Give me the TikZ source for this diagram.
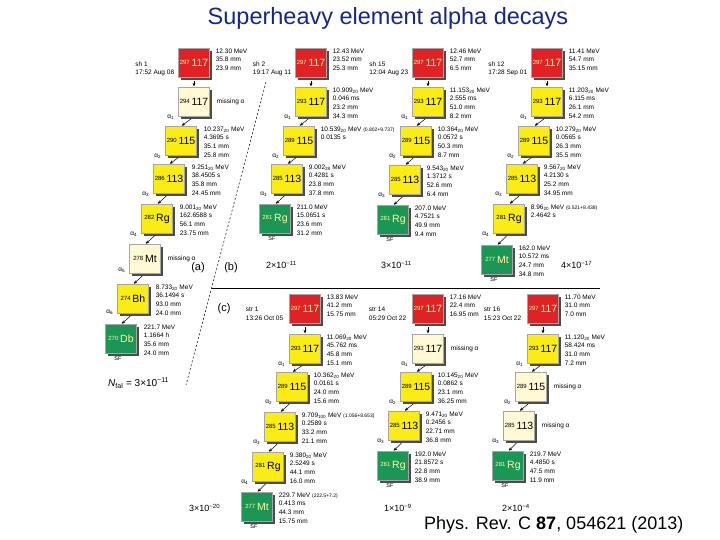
\documentclass[tikz,border=0pt]{standalone}
\usepackage{fontspec}
\setmainfont{Liberation Sans}
\usetikzlibrary{shadows,arrows.meta,calc}
\definecolor{cred}{RGB}{222,34,38}
\definecolor{cyel}{RGB}{250,236,20}
\definecolor{clight}{RGB}{255,249,212}
\definecolor{cgreen}{RGB}{28,150,84}
\definecolor{ctitle}{RGB}{20,40,140}
\newcommand\upx[1]{\textsuperscript{#1}}
\newcommand\dnx[1]{\textsubscript{#1}}
\newcommand\nuc[2]{\raisebox{2.2pt}{\fontsize{6}{6}\selectfont #1}\,#2}
\tikzset{
  box/.style={minimum width=31pt, minimum height=29pt, inner sep=0pt, draw=black!35, line width=0.3pt,
    drop shadow={shadow xshift=2.5pt, shadow yshift=-2.5pt, fill=black!70, opacity=1},
    font=\fontsize{10.5}{10.5}\selectfont},
  rbox/.style={box, fill=cred, text=yellow!35!white},
  ybox/.style={box, fill=cyel},
  lbox/.style={box, fill=clight},
  gbox/.style={box, fill=cgreen, text=yellow!35!white},
  info/.style={font=\fontsize{6.5}{8.7}\selectfont, align=left, anchor=north west, inner sep=0pt},
  miss/.style={font=\fontsize{6.5}{8}\selectfont, anchor=west, inner sep=0pt},
  lab/.style={font=\fontsize{6.5}{8.5}\selectfont, align=left, anchor=east, inner sep=0pt},
  al/.style={font=\fontsize{6.5}{7}\selectfont, anchor=east, inner sep=0pt},
  sf/.style={font=\fontsize{5.5}{6}\selectfont, inner sep=0pt},
  prob/.style={font=\fontsize{9}{10}\selectfont, anchor=west, inner sep=0pt},
  panel/.style={font=\fontsize{11}{12}\selectfont, inner sep=0pt},
  arr/.style={-{Stealth[length=3.5pt,width=3pt]}, line width=0.5pt, shorten <=3.5pt, shorten >=1pt}
}
\begin{document}
\begin{tikzpicture}[x=1pt,y=-1pt]
\useasboundingbox (0,0) rectangle (720,540);
\fill[white] (0,0) rectangle (720,540);

\node[font=\fontsize{23.5}{25}\selectfont, text=ctitle] (title) at (388,18) {Superheavy element alpha decays};

% ---------- top column 1 ----------
\node[rbox] (a0) at (194,63) {\nuc{297}{117}};
\node[lbox] (a1) at (194,102) {\nuc{294}{117}};
\node[ybox] (a2) at (181,141) {\nuc{290}{115}};
\node[ybox] (a3) at (169,179) {\nuc{286}{113}};
\node[ybox] (a4) at (157,219) {\nuc{282}{Rg}};
\node[lbox] (a5) at (145,259) {\nuc{278}{Mt}};
\node[ybox] (a6) at (133,299) {\nuc{274}{Bh}};
\node[gbox] (a7) at (121,339) {\nuc{270}{Db}};
\node[lab] (a0l) at ([xshift=-4pt,yshift=-6pt]a0.west) {sh 1\\17:52 Aug 08};
\node[info] (a0t) at ([xshift=6pt]a0.north east) {12.30 MeV\\35.8 mm\\23.9 mm};
\node[miss] (a1t) at ([xshift=7pt]a1.east) {missing α};
\node[info] (a2t) at ([xshift=7pt]a2.north east) {10.237\dnx{20} MeV\\4.3695 s\\35.1 mm\\25.8 mm};
\node[info] (a3t) at ([xshift=7pt]a3.north east) {9.251\dnx{20} MeV\\38.4505 s\\35.8 mm\\24.45 mm};
\node[info] (a4t) at ([xshift=7pt]a4.north east) {9.001\dnx{20} MeV\\162.6588 s\\56.1 mm\\23.75 mm};
\node[miss] (a5t) at ([xshift=7pt]a5.east) {missing α};
\node[info] (a6t) at ([xshift=7pt]a6.north east) {8.733\dnx{20} MeV\\36.1494 s\\93.0 mm\\24.0 mm};
\node[info] (a7t) at ([xshift=7pt]a7.north east) {221.7 MeV\\1.1664 h\\35.6 mm\\24.0 mm};
\draw[arr] (a0) -- (a1);
\draw[arr] (a1.south) -- (a2.north);
\draw[arr] (a2.south) -- (a3.north);
\draw[arr] (a3.south) -- (a4.north);
\draw[arr] (a4.south) -- (a5.north);
\draw[arr] (a5.south) -- (a6.north);
\draw[arr] (a6.south) -- (a7.north);
\node[al] at ([xshift=-4pt,yshift=-1pt]a1.south west) {α\dnx{1}};
\node[al] at ([xshift=-4pt,yshift=-1pt]a2.south west) {α\dnx{2}};
\node[al] at ([xshift=-4pt,yshift=-1pt]a3.south west) {α\dnx{3}};
\node[al] at ([xshift=-4pt,yshift=-1pt]a4.south west) {α\dnx{4}};
\node[al] at ([xshift=-4pt,yshift=3pt]a5.south west) {α\dnx{5}};
\node[al] at ([xshift=-4pt,yshift=1pt]a6.south west) {α\dnx{6}};
\node[sf] at ([xshift=-3pt,yshift=-5pt]a7.south) {SF};

% ---------- top column 2 ----------
\node[rbox] (b0) at (311,63) {\nuc{297}{117}};
\node[ybox] (b1) at (311,102) {\nuc{293}{117}};
\node[ybox] (b2) at (299,141) {\nuc{289}{115}};
\node[ybox] (b3) at (287,179) {\nuc{285}{113}};
\node[gbox] (b4) at (275,219) {\nuc{281}{Rg}};
\node[lab] (b0l) at ([xshift=-4pt,yshift=-6pt]b0.west) {sh 2\\19:17 Aug 11};
\node[info] (b0t) at ([xshift=6pt]b0.north east) {12.43 MeV\\23.52 mm\\25.3 mm};
\node[info] (b1t) at ([xshift=6pt]b1.north east) {10.909\dnx{20} MeV\\0.046 ms\\23.2 mm\\34.3 mm};
\node[info] (b2t) at ([xshift=6pt]b2.north east) {10.539\dnx{20} MeV {\fontsize{5}{6}\selectfont(0.802+9.737)}\\0.0135 s};
\node[info] (b3t) at ([xshift=6pt]b3.north east) {9.002\dnx{28} MeV\\0.4281 s\\23.8 mm\\37.8 mm};
\node[info] (b4t) at ([xshift=6pt]b4.north east) {211.0 MeV\\15.0651 s\\23.6 mm\\31.2 mm};
\draw[arr] (b0) -- (b1);
\draw[arr] (b1.south) -- (b2.north);
\draw[arr] (b2.south) -- (b3.north);
\draw[arr] (b3.south) -- (b4.north);
\node[al] at ([xshift=-4pt,yshift=-1pt]b1.south west) {α\dnx{1}};
\node[al] at ([xshift=-4pt,yshift=-1pt]b2.south west) {α\dnx{2}};
\node[al] at ([xshift=-4pt,yshift=-1pt]b3.south west) {α\dnx{3}};
\node[sf] at ([xshift=-3pt,yshift=-5pt]b4.south) {SF};
\node[prob] (bp) at (266,265) {2×10\upx{−11}};

% ---------- top column 3 ----------
\node[rbox] (c0) at (428,63) {\nuc{297}{117}};
\node[ybox] (c1) at (428,102) {\nuc{293}{117}};
\node[ybox] (c2) at (416,141) {\nuc{289}{115}};
\node[ybox] (c3) at (405,180) {\nuc{285}{113}};
\node[gbox] (c4) at (393,220) {\nuc{281}{Rg}};
\node[lab] (c0l) at ([xshift=-4pt,yshift=-6pt]c0.west) {sh 15\\12:04 Aug 23};
\node[info] (c0t) at ([xshift=6pt]c0.north east) {12.46 MeV\\52.7 mm\\6.5 mm};
\node[info] (c1t) at ([xshift=6pt]c1.north east) {11.153\dnx{20} MeV\\2.555 ms\\51.0 mm\\8.2 mm};
\node[info] (c2t) at ([xshift=6pt]c2.north east) {10.364\dnx{20} MeV\\0.0572 s\\50.3 mm\\8.7 mm};
\node[info] (c3t) at ([xshift=6pt]c3.north east) {9.543\dnx{20} MeV\\1.3712 s\\52.6 mm\\6.4 mm};
\node[info] (c4t) at ([xshift=6pt]c4.north east) {207.0 MeV\\4.7521 s\\49.9 mm\\9.4 mm};
\draw[arr] (c0) -- (c1);
\draw[arr] (c1.south) -- (c2.north);
\draw[arr] (c2.south) -- (c3.north);
\draw[arr] (c3.south) -- (c4.north);
\node[al] at ([xshift=-4pt,yshift=-1pt]c1.south west) {α\dnx{1}};
\node[al] at ([xshift=-4pt,yshift=-1pt]c2.south west) {α\dnx{2}};
\node[al] at ([xshift=-4pt,yshift=-1pt]c3.south west) {α\dnx{3}};
\node[sf] at ([xshift=-3pt,yshift=-5pt]c4.south) {SF};
\node[prob] (cp) at (381,265) {3×10\upx{−11}};

% ---------- top column 4 ----------
\node[rbox] (d0) at (547,63) {\nuc{297}{117}};
\node[ybox] (d1) at (547,102) {\nuc{293}{117}};
\node[ybox] (d2) at (534,141) {\nuc{289}{115}};
\node[ybox] (d3) at (522,179) {\nuc{285}{113}};
\node[ybox] (d4) at (509,219) {\nuc{281}{Rg}};
\node[gbox] (d5) at (497,260) {\nuc{277}{Mt}};
\node[lab] (d0l) at ([xshift=-4pt,yshift=-6pt]d0.west) {sh 12\\17:28 Sep 01};
\node[info] (d0t) at ([xshift=6pt]d0.north east) {11.41 MeV\\54.7 mm\\35.15 mm};
\node[info] (d1t) at ([xshift=6pt]d1.north east) {11.203\dnx{20} MeV\\6.115 ms\\26.1 mm\\54.2 mm};
\node[info] (d2t) at ([xshift=6pt]d2.north east) {10.279\dnx{20} MeV\\0.0565 s\\26.3 mm\\35.5 mm};
\node[info] (d3t) at ([xshift=6pt]d3.north east) {9.567\dnx{20} MeV\\4.2130 s\\25.2 mm\\34.95 mm};
\node[info] (d4t) at ([xshift=6pt]d4.north east) {8.96\dnx{20} MeV {\fontsize{5}{6}\selectfont(0.521+8.438)}\\2.4642 s};
\node[info] (d5t) at ([xshift=6pt]d5.north east) {162.0 MeV\\10.572 ms\\24.7 mm\\34.8 mm};
\draw[arr] (d0) -- (d1);
\draw[arr] (d1.south) -- (d2.north);
\draw[arr] (d2.south) -- (d3.north);
\draw[arr] (d3.south) -- (d4.north);
\draw[arr] (d4.south) -- (d5.north);
\node[al] at ([xshift=-4pt,yshift=-1pt]d1.south west) {α\dnx{1}};
\node[al] at ([xshift=-4pt,yshift=-1pt]d2.south west) {α\dnx{2}};
\node[al] at ([xshift=-4pt,yshift=-1pt]d3.south west) {α\dnx{3}};
\node[al] at ([xshift=-4pt,yshift=-1pt]d4.south west) {α\dnx{4}};
\node[sf] at ([xshift=-3pt,yshift=-5pt]d5.south) {SF};
\node[prob] (dp) at (561,265) {4×10\upx{−17}};

% ---------- separators ----------
\coordinate (dtop) at (266,82);
\coordinate (dbot) at (186,385);
\draw[line width=0.5pt, dash pattern=on 2pt off 2pt] (dtop) -- (dbot);
\coordinate (hl) at (212,288);
\coordinate (hr) at (600,288);
\draw[line width=0.7pt] (hl) -- (hr);
\node[panel] (la) at (198,268) {(a)};
\node[panel] (lb) at (231,268) {(b)};
\node[panel] (lc) at (224,309) {(c)};
\node[prob, font=\fontsize{10}{11}\selectfont] (nf) at (108,383) {\textit{N}\dnx{fal} = 3×10\upx{−11}};

% ---------- bottom column 1 ----------
\node[rbox] (e0) at (305,309) {\nuc{297}{117}};
\node[ybox] (e1) at (305,349) {\nuc{293}{117}};
\node[ybox] (e2) at (292,387) {\nuc{289}{115}};
\node[ybox] (e3) at (280,427) {\nuc{285}{113}};
\node[ybox] (e4) at (268,467) {\nuc{281}{Rg}};
\node[gbox] (e5) at (257,507) {\nuc{277}{Mt}};
\node[lab] (e0l) at ([xshift=-6pt,yshift=-5pt]e0.west) {str 1\\13:26 Oct 05};
\node[info] (e0t) at ([xshift=6pt]e0.north east) {13.83 MeV\\41.2 mm\\15.75 mm};
\node[info] (e1t) at ([xshift=6pt]e1.north east) {11.069\dnx{20} MeV\\45.762 ms\\45.8 mm\\15.1 mm};
\node[info] (e2t) at ([xshift=6pt]e2.north east) {10.362\dnx{20} MeV\\0.0161 s\\24.0 mm\\15.6 mm};
\node[info] (e3t) at ([xshift=6pt]e3.north east) {9.709\dnx{100} MeV {\fontsize{5}{6}\selectfont(1.056+8.653)}\\0.2589 s\\33.2 mm\\21.1 mm};
\node[info] (e4t) at ([xshift=6pt]e4.north east) {9.380\dnx{20} MeV\\2.5249 s\\44.1 mm\\16.0 mm};
\node[info] (e5t) at ([xshift=6pt]e5.north east) {229.7 MeV {\fontsize{5}{6}\selectfont(222.5+7.2)}\\0.413 ms\\44.3 mm\\15.75 mm};
\draw[arr] (e0) -- (e1);
\draw[arr] (e1.south) -- (e2.north);
\draw[arr] (e2.south) -- (e3.north);
\draw[arr] (e3.south) -- (e4.north);
\draw[arr] (e4.south) -- (e5.north);
\node[al] at ([xshift=-4pt,yshift=-1pt]e1.south west) {α\dnx{1}};
\node[al] at ([xshift=-4pt,yshift=-1pt]e2.south west) {α\dnx{2}};
\node[al] at ([xshift=-4pt,yshift=-1pt]e3.south west) {α\dnx{3}};
\node[al] at ([xshift=-4pt,yshift=-1pt]e4.south west) {α\dnx{4}};
\node[sf] at ([xshift=-3pt,yshift=-5pt]e5.south) {SF};
\node[prob] (ep) at (189,508) {3×10\upx{−20}};

% ---------- bottom column 2 ----------
\node[rbox] (f0) at (428,309) {\nuc{297}{117}};
\node[lbox] (f1) at (428,349) {\nuc{293}{117}};
\node[ybox] (f2) at (416,387) {\nuc{289}{115}};
\node[ybox] (f3) at (404,426) {\nuc{285}{113}};
\node[gbox] (f4) at (393,466) {\nuc{281}{Rg}};
\node[lab] (f0l) at ([xshift=-6pt,yshift=-5pt]f0.west) {str 14\\05:29 Oct 22};
\node[info] (f0t) at ([xshift=6pt]f0.north east) {17.16 MeV\\22.4 mm\\16.95 mm};
\node[miss] (f1t) at ([xshift=7pt]f1.east) {missing α};
\node[info] (f2t) at ([xshift=6pt]f2.north east) {10.145\dnx{20} MeV\\0.0862 s\\23.1 mm\\36.25 mm};
\node[info] (f3t) at ([xshift=6pt]f3.north east) {9.471\dnx{20} MeV\\0.2456 s\\22.71 mm\\36.8 mm};
\node[info] (f4t) at ([xshift=6pt]f4.north east) {192.0 MeV\\21.8572 s\\22.8 mm\\38.9 mm};
\draw[arr] (f0) -- (f1);
\draw[arr] (f1.south) -- (f2.north);
\draw[arr] (f2.south) -- (f3.north);
\draw[arr] (f3.south) -- (f4.north);
\node[al] at ([xshift=-4pt,yshift=-1pt]f1.south west) {α\dnx{1}};
\node[al] at ([xshift=-4pt,yshift=-1pt]f2.south west) {α\dnx{2}};
\node[al] at ([xshift=-4pt,yshift=-1pt]f3.south west) {α\dnx{3}};
\node[sf] at ([xshift=-3pt,yshift=-5pt]f4.south) {SF};
\node[prob] (fp) at (384,508) {1×10\upx{−9}};

% ---------- bottom column 3 ----------
\node[rbox] (g0) at (543,309) {\nuc{297}{117}};
\node[ybox] (g1) at (543,349) {\nuc{293}{117}};
\node[lbox] (g2) at (531,387) {\nuc{289}{115}};
\node[lbox] (g3) at (519,426) {\nuc{285}{113}};
\node[gbox] (g4) at (508,466) {\nuc{281}{Rg}};
\node[lab] (g0l) at ([xshift=-6pt,yshift=-5pt]g0.west) {str 16\\15:23 Oct 22};
\node[info] (g0t) at ([xshift=6pt]g0.north east) {11.70 MeV\\31.0 mm\\7.0 mm};
\node[info] (g1t) at ([xshift=6pt]g1.north east) {11.120\dnx{20} MeV\\58.424 ms\\31.0 mm\\7.2 mm};
\node[miss] (g2t) at ([xshift=7pt]g2.east) {missing α};
\node[miss] (g3t) at ([xshift=7pt]g3.east) {missing α};
\node[info] (g4t) at ([xshift=6pt]g4.north east) {219.7 MeV\\4.4850 s\\47.5 mm\\11.9 mm};
\draw[arr] (g0) -- (g1);
\draw[arr] (g1.south) -- (g2.north);
\draw[arr] (g2.south) -- (g3.north);
\draw[arr] (g3.south) -- (g4.north);
\node[al] at ([xshift=-4pt,yshift=-1pt]g1.south west) {α\dnx{1}};
\node[al] at ([xshift=-4pt,yshift=-1pt]g2.south west) {α\dnx{2}};
\node[al] at ([xshift=-4pt,yshift=-1pt]g3.south west) {α\dnx{3}};
\node[sf] at ([xshift=-3pt,yshift=-5pt]g4.south) {SF};
\node[prob] (gp) at (502,508) {2×10\upx{−4}};

\node[font=\fontsize{18}{20}\selectfont, anchor=west, inner sep=0pt] (ref) at (424,525) {Phys. Rev. C \textbf{87}, 054621 (2013)};
\end{tikzpicture}
\end{document}
